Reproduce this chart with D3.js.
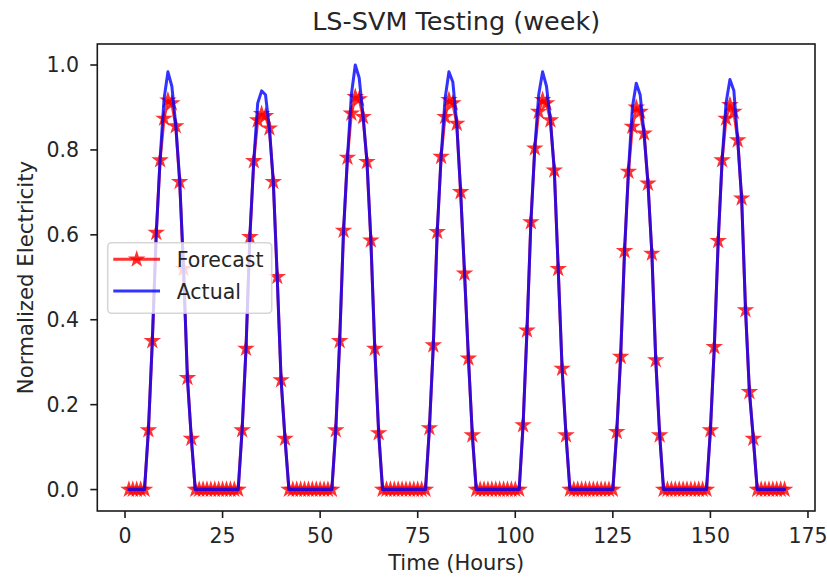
<!DOCTYPE html>
<html>
<head>
<meta charset="utf-8">
<script src="https://cdn.jsdelivr.net/npm/d3@7/dist/d3.min.js"></script>
<style>
  html, body { margin: 0; padding: 0; background: #ffffff; }
  svg { display: block; }
  text { font-family: "DejaVu Sans", sans-serif; fill: #262626; }
</style>
</head>
<body>
<svg id="chart" width="827" height="579"></svg>
<script>
// Hourly normalized electricity over one week (hours 1..169), one row per day.
const forecast = [
  // day 1 (hours 1-23)
  0, 0, 0, 0, 0, 0.140, 0.350, 0.605, 0.776, 0.874, 0.917, 0.910, 0.856, 0.725, 0.520, 0.263, 0.120, 0, 0, 0, 0, 0, 0,
  // day 2
  0, 0, 0, 0, 0, 0, 0.140, 0.332, 0.595, 0.774, 0.870, 0.885, 0.880, 0.851, 0.725, 0.501, 0.258, 0.120, 0, 0, 0, 0, 0, 0,
  // day 3
  0, 0, 0, 0, 0, 0, 0.140, 0.350, 0.610, 0.782, 0.886, 0.925, 0.920, 0.878, 0.772, 0.587, 0.332, 0.133, 0, 0, 0, 0, 0, 0,
  // day 4
  0, 0, 0, 0, 0, 0, 0.145, 0.340, 0.607, 0.784, 0.878, 0.918, 0.910, 0.862, 0.701, 0.509, 0.309, 0.128, 0, 0, 0, 0, 0, 0,
  // day 5
  0, 0, 0, 0, 0, 0, 0.152, 0.375, 0.630, 0.804, 0.890, 0.918, 0.910, 0.870, 0.752, 0.520, 0.285, 0.128, 0, 0, 0, 0, 0, 0,
  // day 6
  0, 0, 0, 0, 0, 0, 0.136, 0.313, 0.562, 0.749, 0.855, 0.900, 0.890, 0.839, 0.721, 0.556, 0.305, 0.128, 0, 0, 0, 0, 0, 0,
  // day 7
  0, 0, 0, 0, 0, 0, 0.140, 0.336, 0.586, 0.776, 0.874, 0.906, 0.890, 0.823, 0.686, 0.423, 0.230, 0.120, 0, 0, 0, 0, 0, 0,
  // hours 168-169
  0, 0
];

const actual = [
  0, 0, 0, 0, 0, 0.140, 0.350, 0.600, 0.780, 0.920, 0.984, 0.950, 0.860, 0.730, 0.520, 0.260, 0.120, 0, 0, 0, 0, 0, 0,
  0, 0, 0, 0, 0, 0, 0.140, 0.330, 0.600, 0.775, 0.910, 0.939, 0.930, 0.850, 0.725, 0.500, 0.258, 0.120, 0, 0, 0, 0, 0, 0,
  0, 0, 0, 0, 0, 0, 0.140, 0.350, 0.610, 0.782, 0.930, 1.000, 0.970, 0.880, 0.772, 0.587, 0.332, 0.133, 0, 0, 0, 0, 0, 0,
  0, 0, 0, 0, 0, 0, 0.145, 0.340, 0.607, 0.784, 0.920, 0.984, 0.960, 0.862, 0.701, 0.509, 0.309, 0.128, 0, 0, 0, 0, 0, 0,
  0, 0, 0, 0, 0, 0, 0.152, 0.375, 0.630, 0.804, 0.930, 0.984, 0.950, 0.870, 0.752, 0.520, 0.285, 0.128, 0, 0, 0, 0, 0, 0,
  0, 0, 0, 0, 0, 0, 0.136, 0.313, 0.562, 0.749, 0.900, 0.957, 0.930, 0.839, 0.721, 0.556, 0.305, 0.128, 0, 0, 0, 0, 0, 0,
  0, 0, 0, 0, 0, 0, 0.140, 0.336, 0.586, 0.776, 0.910, 0.966, 0.940, 0.823, 0.686, 0.423, 0.230, 0.120, 0, 0, 0, 0, 0, 0,
  0, 0
];

const hours = d3.range(1, forecast.length + 1);
const xTicks = [0, 25, 50, 75, 100, 125, 150, 175];
const yTicks = [0.0, 0.2, 0.4, 0.6, 0.8, 1.0];
const seriesNames = ["Forecast", "Actual"];
const seriesColors = ["#ff0000", "#0000ff"];
const titleText = "LS-SVM Testing (week)";
const xLabel = "Time (Hours)";
const yLabel = "Normalized Electricity";

const svg = d3.select("#chart");
const plot = { left: 97.3, right: 815, top: 44, bottom: 511 };

const x = d3.scaleLinear().domain([-7.1, 176.8]).range([plot.left, plot.right]);
const y = d3.scaleLinear().domain([-0.0505, 1.0495]).range([plot.bottom, plot.top]);

// five-pointed star marker
function starPath(R) {
  const r = R * 0.381966;
  const pts = [];
  for (let i = 0; i < 10; i++) {
    const a = -Math.PI / 2 + i * Math.PI / 5;
    const rad = i % 2 === 0 ? R : r;
    pts.push([rad * Math.cos(a), rad * Math.sin(a)]);
  }
  return "M" + pts.map(p => p[0].toFixed(2) + "," + p[1].toFixed(2)).join("L") + "Z";
}
const star = starPath(6);

const defs = svg.append("defs");
defs.append("clipPath").attr("id", "plotclip")
  .append("rect")
  .attr("x", plot.left).attr("y", plot.top)
  .attr("width", plot.right - plot.left).attr("height", plot.bottom - plot.top);

const line = d3.line().x(d => x(d[0])).y(d => y(d[1]));
const g = svg.append("g").attr("clip-path", "url(#plotclip)");

// forecast line with star markers
const fData = hours.map((h, i) => [h, forecast[i]]);
g.append("path")
  .attr("d", line(fData))
  .attr("fill", "none")
  .attr("stroke", seriesColors[0])
  .attr("stroke-opacity", 0.8)
  .attr("stroke-width", 3)
  .attr("stroke-linejoin", "round")
  .attr("stroke-linecap", "round");
g.append("g").selectAll("path")
  .data(fData)
  .join("path")
  .attr("d", star)
  .attr("transform", d => `translate(${x(d[0])},${y(d[1])})`)
  .attr("fill", seriesColors[0])
  .attr("stroke", seriesColors[0])
  .attr("stroke-width", 2)
  .attr("opacity", 0.8);

// actual line
const aData = hours.map((h, i) => [h, actual[i]]);
g.append("path")
  .attr("d", line(aData))
  .attr("fill", "none")
  .attr("stroke", seriesColors[1])
  .attr("stroke-opacity", 0.8)
  .attr("stroke-width", 3)
  .attr("stroke-linejoin", "round")
  .attr("stroke-linecap", "round");

// frame
svg.append("rect")
  .attr("x", plot.left).attr("y", plot.top)
  .attr("width", plot.right - plot.left).attr("height", plot.bottom - plot.top)
  .attr("fill", "none").attr("stroke", "#1a1a1a").attr("stroke-width", 1.6);

// x axis
const xAxis = svg.append("g");
xAxis.selectAll("line").data(xTicks).join("line")
  .attr("x1", d => x(d)).attr("x2", d => x(d))
  .attr("y1", plot.bottom).attr("y2", plot.bottom + 7)
  .attr("stroke", "#1a1a1a").attr("stroke-width", 1.6);
xAxis.selectAll("text").data(xTicks).join("text")
  .attr("x", d => x(d)).attr("y", 542.5)
  .attr("text-anchor", "middle")
  .attr("font-size", 20.5)
  .text(d => d3.format("d")(d));

// y axis
const yAxis = svg.append("g");
yAxis.selectAll("line").data(yTicks).join("line")
  .attr("x1", plot.left - 7).attr("x2", plot.left)
  .attr("y1", d => y(d)).attr("y2", d => y(d))
  .attr("stroke", "#1a1a1a").attr("stroke-width", 1.6);
yAxis.selectAll("text").data(yTicks).join("text")
  .attr("x", 79).attr("y", d => y(d) + 7.4)
  .attr("text-anchor", "end")
  .attr("font-size", 20.5)
  .text(d => d3.format(".1f")(d));

// titles
svg.append("text")
  .attr("x", (plot.left + plot.right) / 2).attr("y", 30)
  .attr("text-anchor", "middle").attr("font-size", 25.5)
  .text(titleText);
svg.append("text")
  .attr("x", (plot.left + plot.right) / 2).attr("y", 569.5)
  .attr("text-anchor", "middle").attr("font-size", 21)
  .text(xLabel);
svg.append("text")
  .attr("transform", `translate(32.5,${(plot.top + plot.bottom) / 2}) rotate(-90)`)
  .attr("text-anchor", "middle").attr("font-size", 21.3)
  .text(yLabel);

// legend
const lg = svg.append("g");
lg.append("rect")
  .attr("x", 107.7).attr("y", 242.7).attr("width", 164).attr("height", 70.6)
  .attr("rx", 4).attr("ry", 4)
  .attr("fill", "#ffffff").attr("fill-opacity", 0.8)
  .attr("stroke", "#cccccc").attr("stroke-opacity", 0.8).attr("stroke-width", 1.6);
const rows = [259.3, 291];
seriesNames.forEach((name, i) => {
  lg.append("line")
    .attr("x1", 113.3).attr("x2", 160)
    .attr("y1", rows[i]).attr("y2", rows[i])
    .attr("stroke", seriesColors[i]).attr("stroke-opacity", 0.8)
    .attr("stroke-width", 3);
  if (i === 0) {
    lg.append("path")
      .attr("d", star)
      .attr("transform", `translate(136.7,${rows[i]})`)
      .attr("fill", seriesColors[i]).attr("stroke", seriesColors[i])
      .attr("stroke-width", 2).attr("opacity", 0.8);
  }
  lg.append("text")
    .attr("x", 176.7).attr("y", rows[i] + 7.8)
    .attr("font-size", 20.5)
    .text(name);
});
</script>
</body>
</html>
